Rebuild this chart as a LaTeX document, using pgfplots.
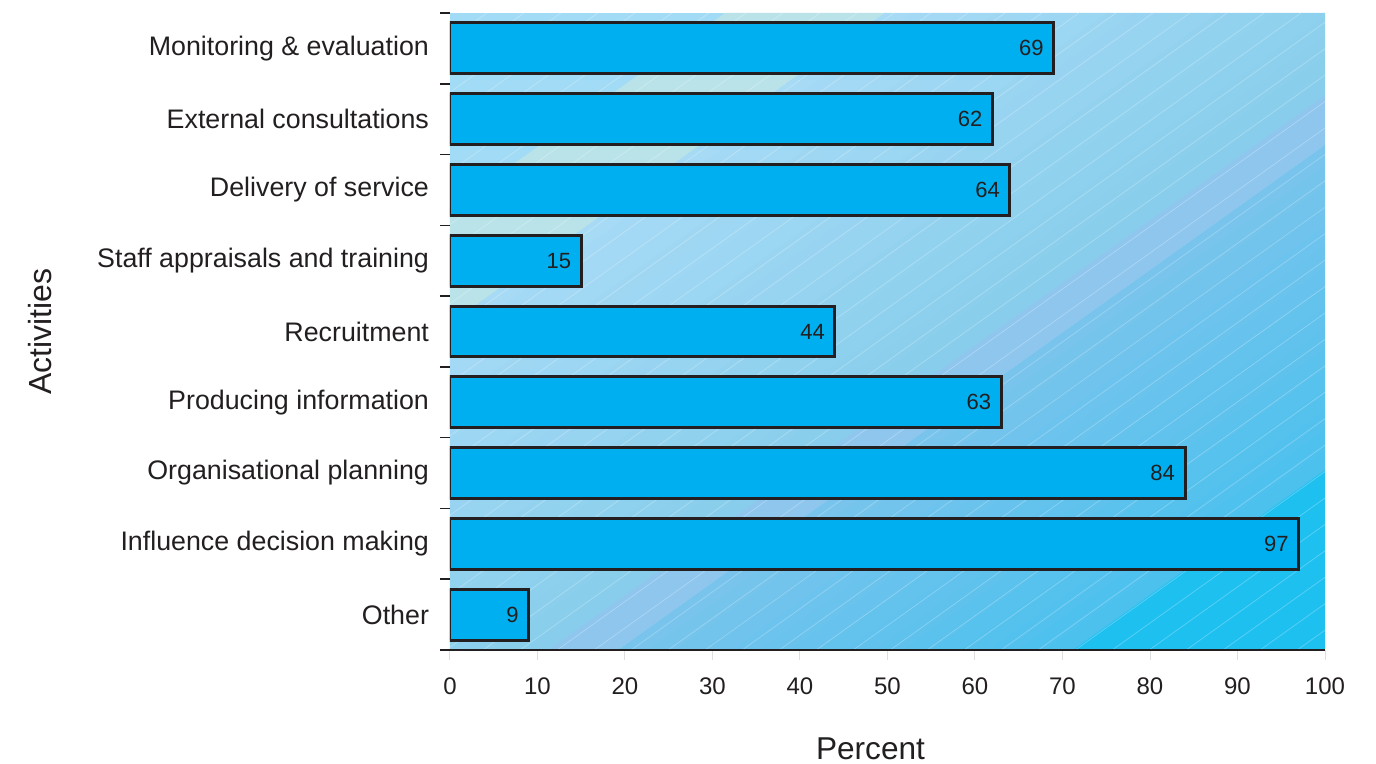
\documentclass[border=0pt]{standalone}
\usepackage{pgfplots}
\pgfplotsset{compat=1.18}
\usepackage{fontspec}
\setmainfont{Liberation Sans}
\definecolor{barblue}{HTML}{00AFEF}
\definecolor{edge}{HTML}{231F20}
\definecolor{c0}{HTML}{A2DBF5}
\definecolor{cgreen}{HTML}{B9E3E8}
\definecolor{cA}{HTML}{A6DAF5}
\definecolor{cB}{HTML}{88CEEC}
\definecolor{clav}{HTML}{8FC6EE}
\definecolor{cC}{HTML}{78C4EC}
\definecolor{cD}{HTML}{4CC1EE}
\definecolor{ccyan}{HTML}{1EC0F0}
\begin{document}
\begin{tikzpicture}
\path[use as bounding box] (-225pt,-57pt) rectangle (463pt,325pt);
% background of the plot area (decoration)
\begin{scope}[x=0.5pt,y=-0.5pt,shift={(0pt,318.5pt)}]
\clip (0,0) rectangle (875,637);
\fill[c0] (0,0) rectangle (875,637);
\fill[cgreen] (275,0) -- (435,0) -- (435-891.8,637) -- (275-891.8,637) -- cycle;
\foreach \i in {0,...,19}{
  \pgfmathsetmacro\ua{435+\i*27.75}
  \pgfmathsetmacro\ub{\ua+28.5}
  \pgfmathtruncatemacro\p{100-\i*100/19}
  \fill[cA!\p!cB] (\ua,0) -- (\ub,0) -- (\ub-891.8,637) -- (\ua-891.8,637) -- cycle;
}
\fill[clav] (990,0) -- (1060,0) -- (1060-891.8,637) -- (990-891.8,637) -- cycle;
\foreach \i in {0,...,15}{
  \pgfmathsetmacro\ua{1060+\i*28.4375}
  \pgfmathsetmacro\ub{\ua+29}
  \pgfmathtruncatemacro\p{100-\i*100/15}
  \fill[cC!\p!cD] (\ua,0) -- (\ub,0) -- (\ub-891.8,637) -- (\ua-891.8,637) -- cycle;
}
\fill[ccyan] (1515,0) -- (1900,0) -- (1900-891.8,637) -- (1515-891.8,637) -- cycle;
\foreach \u in {0,37,...,1800}{
  \draw[white, opacity=0.25, line width=0.4pt] (\u,0) -- (\u-891.8,637);
}
\end{scope}
\begin{axis}[
  at={(0,0)}, anchor=south west,
  scale only axis, width=437.5pt, height=318.5pt,
  xbar, bar width=0.72,
  xmin=0, xmax=100, ymin=-0.5, ymax=8.5,
  axis x line=bottom, axis y line=left,
  x axis line style={-, line width=1pt, draw=edge},
  y axis line style={draw=none},
  xtick={0,10,...,100},
  xtick style={draw=gray!25, line width=0.5pt},
  ytick={-0.5,0.5,...,8.5},
  yticklabels={},
  ytick style={draw=edge, line width=0.8pt},
  tick align=outside, major tick length=5pt,
  extra y ticks={0,1,2,3,4,5,6,7,8},
  extra y tick labels={Other, Influence decision making, Organisational planning, Producing information, Recruitment, Staff appraisals and training, Delivery of service, External consultations, Monitoring \& evaluation},
  extra y tick style={major tick length=0pt, yticklabel style={font=\fontsize{13.4}{16}\selectfont, text=edge, xshift=-7pt}},
  /pgf/number format/assume math mode=true,
  xticklabel style={font=\fontsize{12}{14}\selectfont, text=edge, yshift=-5.5pt},
  xlabel={Percent}, ylabel={Activities},
  xlabel style={font=\fontsize{15.8}{18}\selectfont, text=edge, inner sep=0pt, at={(axis description cs:0.4806,-0.1726)}, anchor=base},
  ylabel style={font=\fontsize{16}{19}\selectfont, text=edge, at={(axis description cs:-0.4686,0.5)}, anchor=center},
  nodes near coords,
  every node near coord/.append style={anchor=east, font=\fontsize{11}{13}\selectfont, text=edge, xshift=-1pt},
]
\addplot[fill=barblue, draw=edge, line width=1.5pt] coordinates {
  (9,0) (97,1) (84,2) (63,3) (44,4) (15,5) (64,6) (62,7) (69,8)
};
\end{axis}
\end{tikzpicture}
\end{document}
